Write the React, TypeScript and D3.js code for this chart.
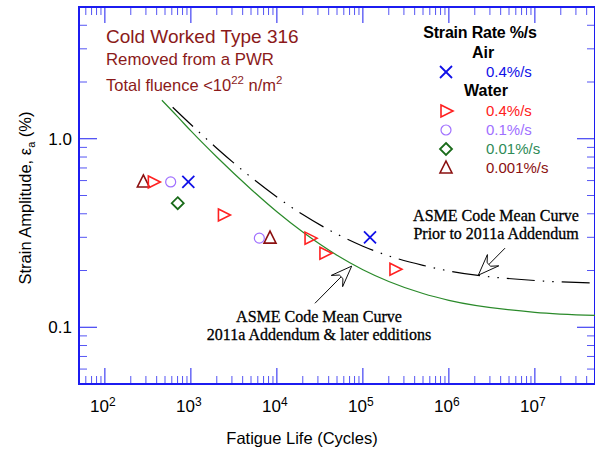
import React from "react";
import * as d3 from "d3";

// ---- Data ----
const airCycles = [933, 121000];
const airStrain = [0.59, 0.3];
const water04Cycles = [366, 2390, 24300, 36200, 236000];
const water04Strain = [0.59, 0.394, 0.297, 0.247, 0.203];
const water01Cycles = [582, 6250];
const water01Strain = [0.59, 0.297];
const water001Cycles = [703];
const water001Strain = [0.455];
const water0001Cycles = [280, 8320];
const water0001Strain = [0.59, 0.297];

// ASME mean curve 2011a
const newCurveCycles = [460, 700, 1000, 2000, 5000, 1e4, 2e4, 5e4, 1e5, 2e5, 5e5, 1e6, 1e7, 5e7];
const newCurveStrain = [1.6, 1.31, 1.1, 0.8, 0.54, 0.41, 0.32, 0.241, 0.202, 0.175, 0.151, 0.139, 0.12, 0.1155];
// ASME mean curve prior to 2011a
const oldCurveCycles = [614, 1000, 2000, 5000, 1e4, 2e4, 5e4, 1e5, 2e5, 5e5, 1e6, 1e7, 5e7];
const oldCurveStrain = [1.47, 1.19, 0.891, 0.625, 0.491, 0.396, 0.312, 0.269, 0.239, 0.213, 0.199, 0.177, 0.1716];

const xMajorTicks = [1e2, 1e3, 1e4, 1e5, 1e6, 1e7];
const xTickExponents = ["2", "3", "4", "5", "6", "7"];
const yMajorTicks = [0.1, 1];
const yTickLabels = ["0.1", "1.0"];

const legendLabels = ["0.4%/s", "0.4%/s", "0.1%/s", "0.01%/s", "0.001%/s"];

// ---- Layout ----
const W = 595, H = 455;
const L = 79, R = 595, T = 7, B = 384;
const FONT = "'Liberation Sans', Arial, Helvetica, sans-serif";
const SERIF = "'Liberation Serif', 'Times New Roman', serif";
const AXIS = "#1c1cf0";

const C_AIR = "#1010e8";
const C_RED = "#ff2020";
const C_PURPLE = "#a070ff";
const C_GREEN = "#1a6b1a";
const C_DARKRED = "#8b1010";
const C_TITLE = "#8B1A1A";

const x = d3.scaleLog().domain([50, 5e7]).range([L, R]);
const y = d3.scaleLog().domain([0.05, 5]).range([B, T]);

function minorTicks(lo: number, hi: number) {
  const out: number[] = [];
  for (let e = -3; e <= 9; e++) {
    const base = Math.pow(10, e);
    for (let k = 2; k <= 9; k++) {
      const v = k * base;
      if (v > lo * 1.0001 && v < hi * 0.9999) out.push(v);
    }
  }
  return out;
}

const xMinor = minorTicks(50, 5e7);
const yMinor = minorTicks(0.05, 5);

const MAJ = 16, MIN = 8;

function Marker({ kind, cx, cy }: { kind: string; cx: number; cy: number }) {
  const sw = 1.6;
  if (kind === "x")
    return (
      <g stroke={C_AIR} strokeWidth={1.8} fill="none">
        <line x1={cx - 6} y1={cy - 6} x2={cx + 6} y2={cy + 6} />
        <line x1={cx - 6} y1={cy + 6} x2={cx + 6} y2={cy - 6} />
      </g>
    );
  if (kind === "tr")
    return <polygon points={`${cx - 5},${cy - 6} ${cx + 7},${cy} ${cx - 5},${cy + 6}`} fill="none" stroke={C_RED} strokeWidth={sw} />;
  if (kind === "c") return <circle cx={cx} cy={cy} r={5} fill="none" stroke={C_PURPLE} strokeWidth={1.2} />;
  if (kind === "d")
    return <polygon points={`${cx},${cy - 6} ${cx + 6},${cy} ${cx},${cy + 6} ${cx - 6},${cy}`} fill="none" stroke={C_GREEN} strokeWidth={1.8} />;
  return <polygon points={`${cx},${cy - 7} ${cx + 6},${cy + 5} ${cx - 6},${cy + 5}`} fill="none" stroke={C_DARKRED} strokeWidth={sw} />;
}

function Arrow({ tail, tip }: { tail: [number, number]; tip: [number, number] }) {
  const x1 = x(tail[0]), y1 = y(tail[1]);
  const x2 = x(tip[0]), y2 = y(tip[1]);
  const ang = (Math.atan2(y2 - y1, x2 - x1) * 180) / Math.PI;
  const len = Math.hypot(x2 - x1, y2 - y1);
  return (
    <g transform={`translate(${x1},${y1}) rotate(${ang})`} stroke="#000" strokeWidth={0.9} fill="#fff">
      <line x1={0} y1={0} x2={len - 14} y2={0} />
      <polygon points={`${len},0 ${len - 21},-8 ${len - 15},-2.5 ${len - 15},2.5 ${len - 21},8`} />
    </g>
  );
}

export default function App() {
  const line = d3
    .line<[number, number]>()
    .x((d) => x(d[0]))
    .y((d) => y(d[1]))
    .curve(d3.curveMonotoneX);
  const newPath = line(newCurveCycles.map((n, i) => [n, newCurveStrain[i]]))!;
  const oldPath = line(oldCurveCycles.map((n, i) => [n, oldCurveStrain[i]]))!;

  const series: { kind: string; n: number[]; e: number[] }[] = [
    { kind: "tu", n: water0001Cycles, e: water0001Strain },
    { kind: "tr", n: water04Cycles, e: water04Strain },
    { kind: "c", n: water01Cycles, e: water01Strain },
    { kind: "d", n: water001Cycles, e: water001Strain },
    { kind: "x", n: airCycles, e: airStrain },
  ];

  const legendRows = [
    { kind: "x", y: 72, color: C_AIR },
    { kind: "tr", y: 111, color: C_RED },
    { kind: "c", y: 130, color: C_PURPLE },
    { kind: "d", y: 149, color: "#2e8b57" },
    { kind: "tu", y: 168, color: C_DARKRED },
  ];

  return (
    <svg width={W} height={H} style={{ position: "absolute", left: 0, top: 0, background: "#fff" }} fontFamily={FONT}>
      <defs>
        <clipPath id="plot">
          <rect x={L} y={T} width={R - L} height={B - T} />
        </clipPath>
      </defs>

      {/* ticks */}
      <g stroke={AXIS} strokeWidth={1}>
        {xMajorTicks.map((v) => (
          <g key={"xm" + v}>
            <line x1={x(v)} x2={x(v)} y1={B} y2={B - MAJ} />
            <line x1={x(v)} x2={x(v)} y1={T} y2={T + MAJ} />
          </g>
        ))}
        {xMinor.map((v) => (
          <g key={"xn" + v} strokeOpacity={0.75}>
            <line x1={x(v)} x2={x(v)} y1={B} y2={B - MIN} />
            <line x1={x(v)} x2={x(v)} y1={T} y2={T + MIN} />
          </g>
        ))}
        {yMajorTicks.map((v) => (
          <g key={"ym" + v}>
            <line x1={L} x2={L + MAJ + 2} y1={y(v)} y2={y(v)} />
            <line x1={R} x2={R - MAJ - 2} y1={y(v)} y2={y(v)} />
          </g>
        ))}
        {yMinor.map((v) => (
          <g key={"yn" + v} strokeOpacity={0.75}>
            <line x1={L} x2={L + MIN} y1={y(v)} y2={y(v)} />
            <line x1={R} x2={R - MIN} y1={y(v)} y2={y(v)} />
          </g>
        ))}
      </g>
      <rect x={L} y={T} width={R - L} height={B - T} fill="none" stroke={AXIS} strokeWidth={2} />

      {/* tick labels */}
      {xMajorTicks.map((v, i) => (
        <text key={"xl" + v} x={x(v) - 2} y={412} textAnchor="middle" fontSize={17} fill="#000">
          10
          <tspan fontSize={12} dy={-6}>
            {xTickExponents[i]}
          </tspan>
        </text>
      ))}
      {yMajorTicks.map((v, i) => (
        <text key={"yl" + v} x={72} y={y(v) + 6} textAnchor="end" fontSize={17} fill="#000">
          {yTickLabels[i]}
        </text>
      ))}

      {/* axis titles */}
      <text x={302} y={444} textAnchor="middle" fontSize={16.5} fill="#000">
        Fatigue Life (Cycles)
      </text>
      <text transform="translate(31,198) rotate(-90)" textAnchor="middle" fontSize={16.5} fill="#000">
        Strain Amplitude, ε
        <tspan fontSize={11} dy={4}>a</tspan>
        <tspan dy={-4}> (%)</tspan>
      </text>

      {/* curves */}
      <g clipPath="url(#plot)" fill="none">
        <path d={newPath} stroke="#2a8a2a" strokeWidth={1.2} />
        <path d={oldPath} stroke="#000" strokeWidth={1.2} strokeDasharray="28 8 1.5 8 1.5 8" />
      </g>

      {/* data */}
      {series.map((s) =>
        s.n.map((n, i) => <Marker key={s.kind + i} kind={s.kind} cx={x(n)} cy={y(s.e[i])} />)
      )}

      {/* title text */}
      <g fill={C_TITLE}>
        <text x={106} y={43} fontSize={19}>Cold Worked Type 316</text>
        <text x={106} y={65} fontSize={16.8}>Removed from a PWR</text>
        <text x={106} y={91} fontSize={16.5}>
          Total fluence &lt;10
          <tspan fontSize={11.5} dy={-7}>22</tspan>
          <tspan dy={7}> n/m</tspan>
          <tspan fontSize={11.5} dy={-7}>2</tspan>
        </text>
      </g>

      {/* legend */}
      <text x={480} y={38} textAnchor="middle" fontSize={16} fontWeight="bold" fill="#000" letterSpacing={-0.2}>
        Strain Rate %/s
      </text>
      <text x={483} y={58} textAnchor="middle" fontSize={16} fontWeight="bold" fill="#000">Air</text>
      <text x={486} y={96} textAnchor="middle" fontSize={16} fontWeight="bold" fill="#000">Water</text>
      {legendRows.map((r, i) => (
        <g key={"lg" + i}>
          <Marker kind={r.kind} cx={446} cy={r.y} />
          <text x={486} y={r.y + 5} fontSize={15} fill={r.color}>
            {legendLabels[i]}
          </text>
        </g>
      ))}

      {/* annotations */}
      <g fontFamily={SERIF} fontSize={16} fill="#000" textAnchor="middle" stroke="#000" strokeWidth={0.3}>
        <text x={496} y={221}>ASME Code Mean Curve</text>
        <text x={496} y={239}>Prior to 2011a Addendum</text>
        <text x={319} y={322}>ASME Code Mean Curve</text>
        <text x={319} y={340}>2011a Addendum &amp; later edditions</text>
      </g>
      <Arrow tail={[27700, 0.134]} tip={[74100, 0.211]} />
      <Arrow tail={[4.5e6, 0.263]} tip={[2.2e6, 0.189]} />
    </svg>
  );
}
